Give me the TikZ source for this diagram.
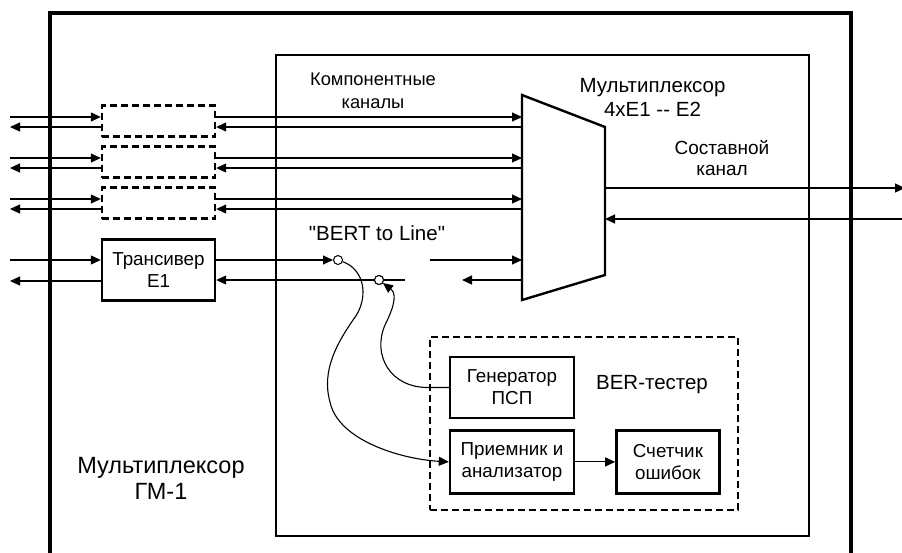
\documentclass[tikz,border=0pt]{standalone}
\usepackage{fontspec}
\setmainfont{Liberation Sans}
\usetikzlibrary{arrows.meta,positioning}

\begin{document}
\begin{tikzpicture}[
  x=1pt, y=-1pt,
  node distance=10pt,
  unit/.style={draw, line width=2.4pt, minimum width=113pt, minimum height=61pt,
    align=center, inner sep=0pt, font=\fontsize{18.8}{22}\selectfont},
  ghost/.style={unit, dashed, dash pattern=on 7pt off 4pt, minimum height=31pt},
  tester/.style={unit, minimum width=124pt},
  tap/.style={circle, draw, fill=white, line width=1pt, inner sep=0pt, minimum size=9pt},
  flow/.style={-{Triangle[length=10pt, width=9pt]}, line width=1.1pt},
  caption/.style={align=center, font=\fontsize{20.5}{24}\selectfont}
]
  \useasboundingbox (0,0) rectangle (902,552);

  % frames of the device and of the E2 multiplexer
  \draw[line width=4pt] (50,560) -- (50,13) -- (851,13) -- (851,560);
  \draw[line width=2.4pt] (276,55) rectangle (809,536);

  % multiplexer 4xE1 -- E2
  \coordinate (mux nw) at (522,95);
  \coordinate (mux ne) at (605,127);
  \coordinate (mux se) at (605,275);
  \coordinate (mux sw) at (522,300);
  \draw[line width=2.4pt, line join=miter] (mux nw) -- (mux ne) -- (mux se) -- (mux sw) -- cycle;

  % component channels 1..3 (not used)
  \foreach \n/\y in {g1/121, g2/162, g3/203} {
    \node[ghost] (\n) at (158.5,\y) {};
    \coordinate (\n in) at (10,\y-4);
    \coordinate (\n out) at (10,\y+6);
    \draw[flow] (\n in) -- ([yshift=4pt]\n.west);
    \draw[flow] ([yshift=-6pt]\n.west) -- (\n out);
    \draw[flow] ([yshift=4pt]\n.east) -- ([yshift=4pt]\n.east -| mux nw);
    \draw[flow] ([yshift=-6pt]\n.east -| mux nw) -- ([yshift=-6pt]\n.east);
  }

  % channel 4 with the E1 transceiver
  \node[unit] (trx) at (158.5,270) {Трансивер\\E1};
  \coordinate (trx in) at (10,260);
  \coordinate (trx out) at (10,281);
  \draw[flow] (trx in) -- ([yshift=10pt]trx.west);
  \draw[flow] ([yshift=-11pt]trx.west) -- (trx out);

  \node[tap] (swA) at (338,260) {};
  \node[tap] (swB) at (379,280) {};
  \coordinate (tapB end) at (405,280);
  \coordinate (gapA) at (430,260);
  \coordinate (gapB) at (462,280);
  \draw[flow] ([yshift=10pt]trx.east) -- (swA);
  \draw[flow] (tapB end) -- ([yshift=-10pt]trx.east);
  \node[tap] at (swB) {};
  \draw[flow] (gapA) -- (gapA -| mux nw);
  \draw[flow] (gapB -| mux nw) -- (gapB);

  % composite E2 channel
  \coordinate (e2 tx) at (905,188);
  \coordinate (e2 rx) at (902,219);
  \draw[flow] (mux ne |- e2 tx) -- (e2 tx);
  \draw[flow] (e2 rx) -- (mux ne |- e2 rx);

  % BER tester
  \node[draw, dashed, dash pattern=on 7pt off 4pt, line width=2.4pt,
    minimum width=308pt, minimum height=173pt] (ber) at (584,423.5) {};
  \node[tester, minimum height=61pt] (gen) at (512,387.5) {Генератор\\ПСП};
  \node[tester, minimum height=63pt, below=of gen] (rx) {Приемник и\\анализатор};
  \node[unit, minimum width=103pt, minimum height=63pt, right=40pt of rx] (cnt) {Счетчик\\ошибок};
  \node[caption] at (652,385) {BER-тестер};
  \draw[flow] (rx) -- (cnt);

  % loop "BERT to Line"
  \draw[flow] (swA) .. controls (366,270) and (369,300) .. (353,320)
    .. controls (338,342) and (321,370) .. (330,402)
    .. controls (338,440) and (400,459) .. (rx.west);
  \draw[flow] (gen.west) -- ++(-20,0) .. controls (390,388) and (372,355) .. (385,325)
    .. controls (396,303) and (396,293) .. (swB);

  % labels
  \node[caption, font=\fontsize{18.3}{23}\selectfont] (comp) at (373,91) {Компонентные\\каналы};
  \node[caption] (muxlabel) at (652.5,97) {Мультиплексор\\4xE1 -{}- E2};
  \node[caption, font=\fontsize{19}{21}\selectfont] (e2label) at (722,158) {Составной\\канал};
  \node[caption] (bert) at (377,233) {\textquotedbl BERT to Line\textquotedbl};
  \node[caption, font=\fontsize{23.5}{26}\selectfont] (gm1) at (161,478) {Мультиплексор\\ГМ-1};
\end{tikzpicture}
\end{document}
